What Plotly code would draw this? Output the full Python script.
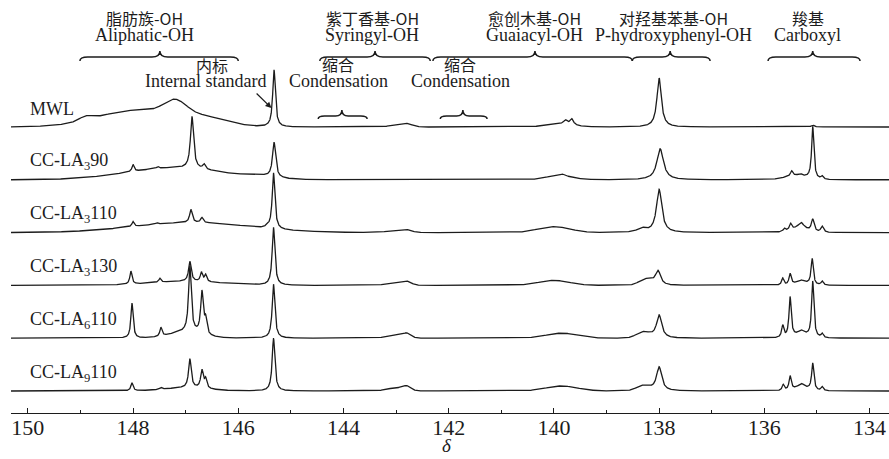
import numpy as np
import plotly.graph_objects as go

# ---- 31P NMR peak tables: (shift / ppm, intensity / a.u., FWHM / ppm) ----
SAMPLES = ["MWL", "CC-LA<sub>3</sub>90", "CC-LA<sub>3</sub>110",
           "CC-LA<sub>3</sub>130", "CC-LA<sub>6</sub>110", "CC-LA<sub>9</sub>110"]

# sharp resonances (Lorentzian)
mwl_sharp = [(145.32, 57, 0.06), (139.78, 4, 0.08), (139.66, 6, 0.08),
             (138.00, 49, 0.10), (135.08, 2, 0.06)]
cc3_90_sharp = [(148.00, 7, 0.05), (147.53, 2, 0.05), (146.88, 52, 0.07),
                (146.65, 5, 0.06), (145.32, 35, 0.07), (139.85, 2, 0.10),
                (137.98, 31, 0.15), (135.48, 5, 0.05), (135.32, 2, 0.08),
                (135.08, 52, 0.05), (134.90, 3, 0.05)]
cc3_110_sharp = [(148.00, 5, 0.05), (147.55, 1.5, 0.05), (146.90, 13, 0.06),
                 (146.69, 5, 0.06), (145.45, 2, 0.06), (145.33, 56, 0.06),
                 (138.33, 4, 0.20), (138.00, 43, 0.12), (135.62, 3, 0.05),
                 (135.50, 6, 0.05), (135.30, 6, 0.12), (135.08, 12, 0.06),
                 (134.90, 6, 0.06)]
cc3_130_sharp = [(148.04, 13, 0.05), (147.49, 4, 0.05), (146.92, 20, 0.06),
                 (146.70, 9, 0.05), (146.62, 7, 0.05), (145.33, 58, 0.06),
                 (138.02, 14, 0.12), (135.65, 7, 0.05), (135.51, 11, 0.05),
                 (135.30, 2, 0.10), (135.09, 26, 0.05), (134.90, 4, 0.05)]
cc6_110_sharp = [(148.02, 35, 0.05), (147.47, 9, 0.05), (146.92, 66, 0.06),
                 (146.69, 42, 0.06), (146.62, 14, 0.05), (145.33, 54, 0.06),
                 (142.80, 2, 0.10), (138.00, 23, 0.12), (135.65, 12, 0.05),
                 (135.51, 40, 0.05), (135.30, 3, 0.10), (135.08, 56, 0.05),
                 (134.90, 4, 0.05)]
cc9_110_sharp = [(148.02, 8, 0.05), (147.47, 2, 0.05), (146.92, 29, 0.06),
                 (146.69, 18, 0.06), (146.62, 9, 0.05), (145.33, 53, 0.06),
                 (142.80, 2, 0.10), (138.00, 24, 0.12), (135.64, 6, 0.05),
                 (135.51, 14, 0.05), (135.30, 3, 0.10), (135.08, 27, 0.05),
                 (134.90, 4, 0.05)]

# broad envelopes (Gaussian)
mwl_broad = [(148.9, 4, 0.3), (147.9, 17, 1.8), (147.2, 14, 0.5),
             (146.6, 7, 1.0), (143.0, 2, 0.3), (142.8, 3, 0.25), (139.9, 3, 0.6)]
cc3_90_broad = [(147.2, 12, 2.2), (145.6, 2, 0.6), (139.9, 4, 0.6), (135.4, 4, 0.5)]
cc3_110_broad = [(146.9, 10, 2.6), (143.0, 2, 0.4), (142.8, 2, 0.25),
                 (140.0, 6, 0.7), (135.35, 4, 0.4)]
cc3_130_broad = [(147.0, 4, 1.6), (143.0, 3, 0.4), (142.8, 3, 0.2),
                 (140.0, 5, 0.7), (138.25, 6, 0.3), (135.3, 3, 0.3)]
cc6_110_broad = [(147.0, 6, 0.7), (143.0, 3, 0.4), (142.8, 2, 0.2),
                 (139.85, 5, 0.7), (138.3, 6, 0.3), (135.3, 4, 0.3)]
cc9_110_broad = [(147.0, 3, 1.0), (143.0, 3, 0.4), (142.8, 2, 0.2),
                 (139.85, 5, 0.7), (138.3, 5, 0.3), (135.3, 4, 0.3)]

SHARP = [mwl_sharp, cc3_90_sharp, cc3_110_sharp, cc3_130_sharp, cc6_110_sharp, cc9_110_sharp]
BROAD = [mwl_broad, cc3_90_broad, cc3_110_broad, cc3_130_broad, cc6_110_broad, cc9_110_broad]

STACK_STEP = 52.8           # vertical offset between stacked spectra
X_RANGE = [150.32, 133.63]  # reversed chemical-shift axis
Y_RANGE = [-22, 391]

# spectral regions marked with braces: (label_cn, label_en, from, to, centre, text x)
REGIONS = [("脂肪族-OH", "Aliphatic-OH", 149.01, 146.00, 147.49, 147.79),
           ("紫丁香基-OH", "Syringyl-OH", 144.45, 142.35, 143.40, 143.45),
           ("愈创木基-OH", "Guaiacyl-OH", 142.30, 138.51, 140.36, 140.36),
           ("对羟基苯基-OH", "P-hydroxyphenyl-OH", 138.51, 137.03, 137.79, 137.72),
           ("羧基", "Carboxyl", 135.93, 134.18, 135.08, 135.17)]
CONDENSED = [(144.48, 143.55, 144.03, 144.10), (142.16, 141.27, 141.73, 141.78)]

ppm = np.linspace(X_RANGE[0], X_RANGE[1], 9000)


def spectrum(sharp, broad):
    y = np.zeros_like(ppm)
    for c, h, w in sharp:
        hw = w / 2
        y += h * hw ** 2 / ((ppm - c) ** 2 + hw ** 2)
    for c, h, w in broad:
        s = w / 2.3548
        y += h * np.exp(-0.5 * ((ppm - c) / s) ** 2)
    return y


SERIF = "Liberation Serif, Times New Roman, Noto Sans CJK SC, serif"
CJK = "Noto Sans CJK SC, Liberation Serif, serif"
INK = "#1c1c1c"

fig = go.Figure()
n = len(SAMPLES)
for i, (name, sh, br) in enumerate(zip(SAMPLES, SHARP, BROAD)):
    off = (n - 1 - i) * STACK_STEP
    fig.add_trace(go.Scatter(x=ppm, y=spectrum(sh, br) + off, mode="lines",
                             line=dict(color=INK, width=1.3), name=name,
                             hoverinfo="skip", showlegend=False))
    fig.add_annotation(x=150.0, y=off + 18, text=name, showarrow=False,
                       xanchor="left", yanchor="middle",
                       font=dict(family=SERIF, size=18, color=INK))


def brace(x0, x1, xm, yl, depth, peak, r):
    """Curly brace path (tips pointing down, centre point up) in data coords."""
    s = -1 if x1 < x0 else 1
    return (f"M {x0},{yl - depth} Q {x0},{yl} {x0 + s * r},{yl} "
            f"L {xm - s * r},{yl} Q {xm},{yl} {xm},{yl + peak} "
            f"Q {xm},{yl} {xm + s * r},{yl} L {x1 - s * r},{yl} "
            f"Q {x1},{yl} {x1},{yl - depth}")


for cn, en, a, b, m, tx in REGIONS:
    fig.add_shape(type="path", path=brace(a, b, m, 334, 4, 6, 0.15),
                  xref="x", yref="y", line=dict(color=INK, width=1.5))
    fig.add_annotation(x=tx, y=373, text=cn, showarrow=False,
                       font=dict(family=CJK, size=16, color=INK))
    fig.add_annotation(x=tx, y=356, text=en, showarrow=False,
                       font=dict(family=SERIF, size=18, color=INK))

for a, b, m, tx in CONDENSED:
    fig.add_shape(type="path", path=brace(a, b, m, 275, 3, 6, 0.12),
                  xref="x", yref="y", line=dict(color=INK, width=1.5))
    fig.add_annotation(x=tx, y=327, text="缩合", showarrow=False,
                       font=dict(family=CJK, size=16, color=INK))
    fig.add_annotation(x=tx, y=310, text="Condensation", showarrow=False,
                       font=dict(family=SERIF, size=18, color=INK))

# internal standard label and arrow
fig.add_annotation(x=146.50, y=326, text="内标", showarrow=False,
                   font=dict(family=CJK, size=16, color=INK))
fig.add_annotation(x=146.63, y=310, text="Internal standard", showarrow=False,
                   font=dict(family=SERIF, size=18, color=INK))
fig.add_annotation(x=145.37, y=283, ax=145.68, ay=299, axref="x", ayref="y",
                   xref="x", yref="y", text="", showarrow=True, arrowhead=2,
                   arrowsize=1, arrowwidth=1.2, arrowcolor=INK)

# axis title
fig.add_annotation(xref="paper", yref="paper", x=0.4966, y=-0.109,
                   yanchor="bottom", text="<i>δ</i>", showarrow=False,
                   font=dict(family=SERIF, size=19, color=INK))

fig.update_xaxes(range=X_RANGE, showline=True, linecolor=INK, linewidth=1.3,
                 ticks="inside", ticklen=5, tickwidth=1.2, tickcolor=INK,
                 tick0=134, dtick=2, showgrid=False, zeroline=False,
                 ticklabelstandoff=-6,
                 minor=dict(ticks="inside", ticklen=3, dtick=1, tick0=133,
                            tickcolor=INK, showgrid=False),
                 tickfont=dict(family=SERIF, size=22, color=INK))
fig.update_yaxes(range=Y_RANGE, visible=False, showgrid=False, zeroline=False)
fig.update_layout(width=889, height=459, margin=dict(l=11, r=0, t=0, b=46),
                  paper_bgcolor="white", plot_bgcolor="white")

fig.write_html("out.html")
